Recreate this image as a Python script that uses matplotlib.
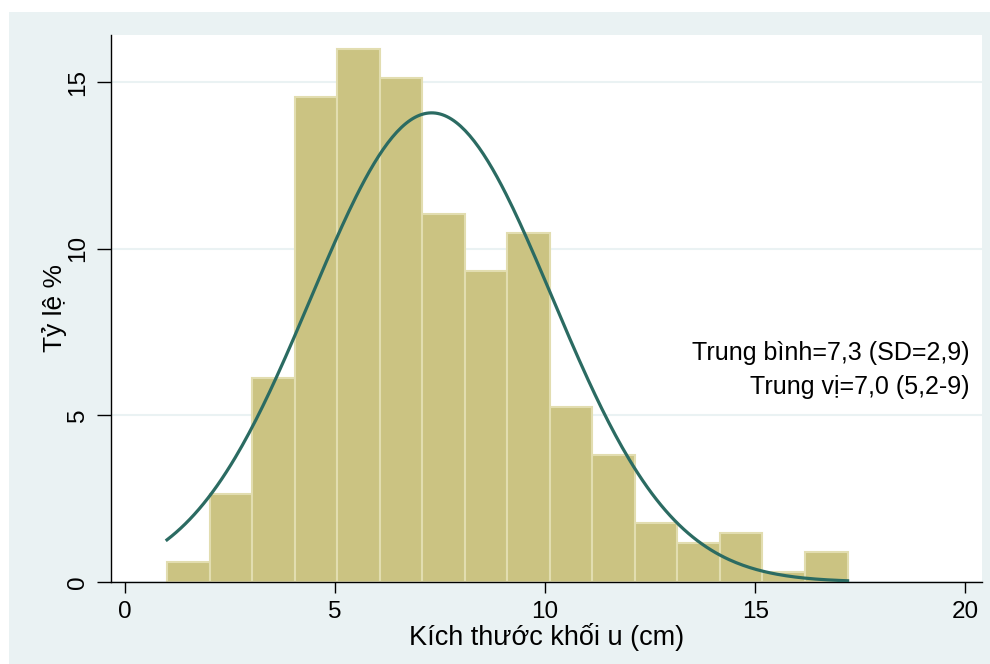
import numpy as np
import matplotlib.pyplot as plt
from matplotlib.patches import Rectangle

# histogram: bin edges start at 1.0, 16 bins up to 17.2 cm
bin_start = 1.0
bin_width = 1.0125
percent = [0.6, 2.64, 6.12, 14.55, 15.99, 15.12, 11.04, 9.33,
           10.47, 5.25, 3.81, 1.77, 1.17, 1.47, 0.3, 0.9]

# normal overlay parameters
mean_size = 7.3
sd_size = 2.87
x_min, x_max = 1.0, 17.2

xticks = [0, 5, 10, 15, 20]
yticks = [0, 5, 10, 15]
stats_lines = ["Trung bình=7,3 (SD=2,9)", "Trung vị=7,0 (5,2-9)"]

bg = '#eaf2f3'
bar_fill = '#cbc382'
bar_edge = '#e2ddb0'
curve_col = '#2b6b62'
font = 'Liberation Sans'

fig = plt.figure(figsize=(9.9, 6.64), dpi=100)
fig.patch.set_facecolor('white')
fig.patches.append(Rectangle((9 / 990, 0), 981 / 990, 652 / 664,
                             transform=fig.transFigure, facecolor=bg,
                             edgecolor='none', zorder=-5))

ax = fig.add_axes([111 / 990, 1 - 582 / 664, 871 / 990, 547 / 664])
ax.set_facecolor('white')

lefts = bin_start + bin_width * np.arange(len(percent))
ax.bar(lefts, percent, width=bin_width, align='edge', color=bar_fill,
       edgecolor=bar_edge, linewidth=1.5, zorder=2)

xs = np.linspace(x_min, x_max, 300)
dens = 100 * bin_width * np.exp(-0.5 * ((xs - mean_size) / sd_size) ** 2) / (sd_size * np.sqrt(2 * np.pi))
ax.plot(xs, dens, color=curve_col, linewidth=2.3, zorder=3)

ax.set_xlim(-0.333, 20.4)
ax.set_ylim(0, 16.41)
ax.set_xticks(xticks)
ax.set_yticks(yticks)
ax.yaxis.grid(True, color=bg, linewidth=1.5, zorder=1)
ax.set_axisbelow(True)
for sp in ['top', 'right']:
    ax.spines[sp].set_visible(False)
for sp in ['left', 'bottom']:
    ax.spines[sp].set_linewidth(1.0)
ax.tick_params(axis='x', length=8, width=1, pad=6, labelsize=17.5, labelfontfamily=font)
ax.tick_params(axis='y', length=10, width=1, pad=6, labelsize=17.5, labelfontfamily=font)
for lab in ax.get_yticklabels():
    lab.set_rotation(90)
    lab.set_va('center')

ax.set_xlabel('Kích thước khối u (cm)', fontsize=19.5, family=font, labelpad=0)
ax.set_ylabel('Tỷ lệ %', fontsize=19, family=font, labelpad=0)

for i, line in enumerate(stats_lines):
    fig.text(970 / 990, 1 - (353 + 34 * i) / 664, line,
             ha='right', va='center', fontsize=18, family=font)

fig.savefig('out.png', dpi=100)
